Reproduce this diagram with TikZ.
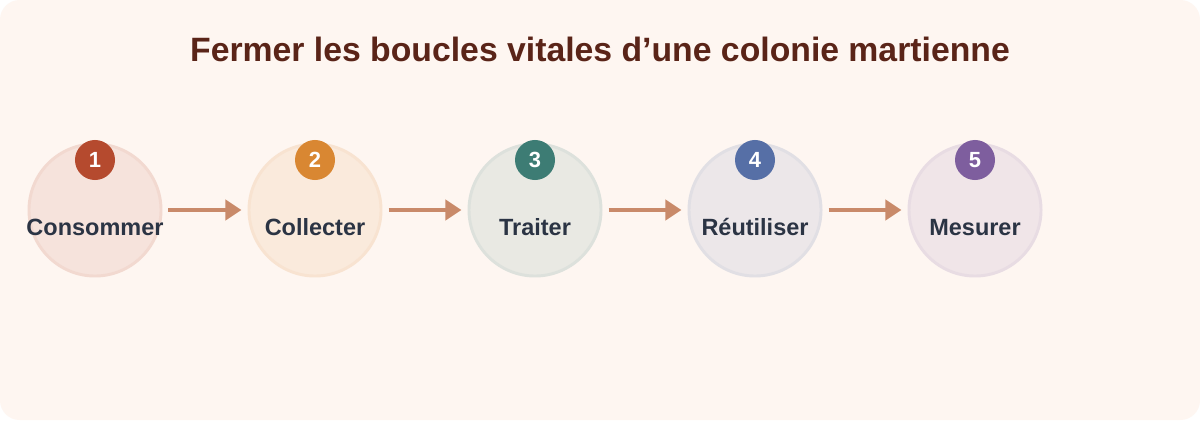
\documentclass[tikz,border=0pt]{standalone}
\usepackage{xcolor}
\usepackage{fontspec}
\setmainfont{Liberation Sans}
\usetikzlibrary{arrows.meta}

\definecolor{pagebg}{HTML}{FEF6F1}
\definecolor{titlecol}{HTML}{5A2418}
\definecolor{labelcol}{HTML}{2B3444}
\definecolor{arrowcol}{HTML}{C98A6A}
\definecolor{rust}{HTML}{B54A2E}
\definecolor{ochre}{HTML}{D98732}
\definecolor{teal}{HTML}{3D7C74}
\definecolor{slate}{HTML}{566FA6}
\definecolor{plum}{HTML}{7E5E9E}

\tikzset{
  stage/.style={circle, minimum size=132*0.7113pt, inner sep=0pt, line width=2.1pt,
    draw=#1!17!pagebg, fill=#1!11!pagebg},
  badge/.style={circle, minimum size=40*0.7113pt, inner sep=0pt, fill=#1,
    text=white, font=\bfseries\fontsize{15.6}{18}\selectfont},
  lbl/.style={anchor=base, text=labelcol, font=\bfseries\fontsize{16.7}{19}\selectfont},
  flow/.style={draw=arrowcol, line width=3.5pt, shorten <=6*0.7113pt, shorten >=6*0.7113pt,
    -{Triangle[length=11.4pt, width=14.2pt]}}
}

\begin{document}
\begin{tikzpicture}[x=0.025cm, y=-0.025cm]
    \useasboundingbox (0,0) rectangle (1200,420);
    \fill[white] (0,0) rectangle (1200,420);
    \fill[pagebg, rounded corners=14pt] (0,0) rectangle (1200,420);

    \node[anchor=base, text=titlecol, font=\bfseries\fontsize{24}{28}\selectfont] (title) at (600,62) {Fermer les boucles vitales d’une colonie martienne};

    \node[stage=rust] (s1) at (95,210) {};
    \node[stage=ochre] (s2) at (315,210) {};
    \node[stage=teal] (s3) at (535,210) {};
    \node[stage=slate] (s4) at (755,210) {};
    \node[stage=plum] (s5) at (975,210) {};

    \node[badge=rust] (b1) at (95,160) {1};
    \node[badge=ochre] (b2) at (315,160) {2};
    \node[badge=teal] (b3) at (535,160) {3};
    \node[badge=slate] (b4) at (755,160) {4};
    \node[badge=plum] (b5) at (975,160) {5};

    \node[lbl] (l1) at (95,235) {Consommer};
    \node[lbl] (l2) at (315,235) {Collecter};
    \node[lbl] (l3) at (535,235) {Traiter};
    \node[lbl] (l4) at (755,235) {Réutiliser};
    \node[lbl] (l5) at (975,235) {Mesurer};

    \draw[flow] (s1) -- (s2);
    \draw[flow] (s2) -- (s3);
    \draw[flow] (s3) -- (s4);
    \draw[flow] (s4) -- (s5);
\end{tikzpicture}
\end{document}
